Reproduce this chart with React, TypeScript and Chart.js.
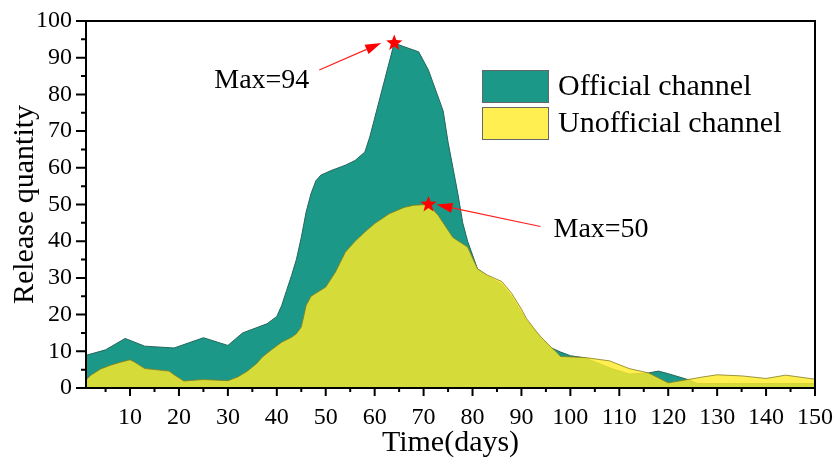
import React, { useEffect, useRef } from 'react';
import { Chart, registerables } from 'chart.js';

Chart.register(...registerables);

// ---- data ----
const officialDays = [1, 5, 9, 13, 19, 25, 30, 33, 35, 38, 40, 41, 42, 43, 44, 45, 46, 47, 48, 49, 51, 54, 56, 58, 59, 64, 66, 69, 71, 74, 75, 76, 77, 78, 79, 81, 83, 86, 88, 91, 94, 96, 98, 100, 103, 108, 112, 116, 118, 120, 124, 126, 150];
const officialValues = [8.9, 10.4, 13.5, 11.4, 10.9, 13.7, 11.6, 15.0, 16.0, 17.5, 19.5, 22.5, 26.6, 30.6, 35, 41, 48, 53, 56.5, 58, 59.2, 60.7, 62, 64.3, 68.4, 94, 93, 91.6, 86.6, 75.5, 67, 60, 53, 45, 40, 32.5, 30.5, 28.3, 25, 18.5, 13.5, 11, 9.8, 8.8, 8.2, 5.5, 3.8, 4.1, 4.6, 3.9, 2.3, 1.2, 1.2];

const unofficialDays = [1, 2, 4, 6, 8, 10, 11, 13, 18, 19, 21, 25, 30, 32, 34, 36, 37, 39, 41, 43, 44, 45, 46, 47, 50, 52, 54, 56, 58, 60, 63, 66, 68, 71, 73, 75, 76, 79, 81, 83, 86, 88, 90, 91, 93, 94, 96, 97, 98, 103, 108, 112, 116, 120, 124, 127, 130, 135, 140, 144, 150];
const unofficialValues = [2.2, 3.5, 5.2, 6.2, 7.0, 7.7, 7.0, 5.3, 4.6, 3.6, 1.9, 2.3, 2.0, 3.0, 4.6, 6.8, 8.4, 10.5, 12.5, 13.8, 14.8, 16.6, 22.5, 25, 27.5, 31.6, 37, 40, 42.5, 44.8, 47.5, 49.2, 49.8, 50, 47, 43, 41, 38.4, 32.5, 30.8, 29, 25.8, 21.5, 19, 15.5, 13.9, 11.2, 10, 8.6, 8.3, 7.4, 5.3, 4.1, 1.4, 2.3, 3.0, 3.6, 3.3, 2.6, 3.5, 2.4];

const seriesLabels = ['Official channel', 'Unofficial channel'];
const xTicks = [10, 20, 30, 40, 50, 60, 70, 80, 90, 100, 110, 120, 130, 140, 150];
const yTicks = [0, 10, 20, 30, 40, 50, 60, 70, 80, 90, 100];
const peakDays = [64, 71];
const peakValues = [94, 50];
const peakLabels = ['Max=94', 'Max=50'];

const FONT = '"Liberation Serif", "Times New Roman", serif';
const TEAL = 'rgb(27,152,136)';
const YELLOW = 'rgba(255,235,41,0.82)';

function drawStar(ctx: CanvasRenderingContext2D, cx: number, cy: number, ro: number, ri: number) {
  ctx.beginPath();
  for (let i = 0; i < 10; i++) {
    const r = i % 2 === 0 ? ro : ri;
    const ang = -Math.PI / 2 + (i * Math.PI) / 5;
    const x = cx + r * Math.cos(ang);
    const y = cy + r * Math.sin(ang);
    if (i === 0) ctx.moveTo(x, y);
    else ctx.lineTo(x, y);
  }
  ctx.closePath();
  ctx.fill();
}

function drawArrow(ctx: CanvasRenderingContext2D, x0: number, y0: number, x1: number, y1: number) {
  const ang = Math.atan2(y1 - y0, x1 - x0);
  const len = 16;
  const hw = 5;
  const bx = x1 - len * Math.cos(ang);
  const by = y1 - len * Math.sin(ang);
  ctx.beginPath();
  ctx.moveTo(x0, y0);
  ctx.lineTo(bx, by);
  ctx.stroke();
  ctx.beginPath();
  ctx.moveTo(x1, y1);
  ctx.lineTo(bx + hw * Math.sin(ang), by - hw * Math.cos(ang));
  ctx.lineTo(bx - hw * Math.sin(ang), by + hw * Math.cos(ang));
  ctx.closePath();
  ctx.fill();
}

// style offsets (pixels) for each annotation relative to its peak point
const annotStyle = [
  { text: [-180, 38], tail: [-75, 27], tip: [-13, 0] },
  { text: [125, 25], tail: [112, 22], tip: [8, 0] },
];

const overlayPlugin = {
  id: 'overlay',
  afterDraw(chart: any) {
    const { ctx, chartArea: a, scales } = chart;
    const xs = scales.x;
    const ys = scales.y;
    ctx.save();
    // frame
    ctx.strokeStyle = '#000';
    ctx.lineWidth = 2;
    ctx.strokeRect(a.left, a.top, a.right - a.left, a.bottom - a.top);
    // ticks
    ctx.beginPath();
    xTicks.forEach((v) => {
      const p = xs.getPixelForValue(v);
      ctx.moveTo(p, a.bottom);
      ctx.lineTo(p, a.bottom + 8);
      const m = xs.getPixelForValue(v - 5);
      ctx.moveTo(m, a.bottom);
      ctx.lineTo(m, a.bottom + 4);
    });
    yTicks.forEach((v, i) => {
      const p = ys.getPixelForValue(v);
      ctx.moveTo(a.left - 10, p);
      ctx.lineTo(a.left, p);
      if (i > 0) {
        const m = ys.getPixelForValue(v - 5);
        ctx.moveTo(a.left - 5, m);
        ctx.lineTo(a.left, m);
      }
    });
    ctx.stroke();

    // legend
    const ds = chart.data.datasets;
    const lx = a.left + 396;
    const ly = a.top + 49;
    const bw = 67;
    const bh = 33;
    const gap = 4;
    ctx.font = `30px ${FONT}`;
    ctx.textBaseline = 'middle';
    ctx.textAlign = 'left';
    ds.forEach((d: any, i: number) => {
      const y = ly + i * (bh + gap);
      ctx.fillStyle = '#fff';
      ctx.fillRect(lx, y, bw, bh);
      ctx.fillStyle = d.backgroundColor;
      ctx.fillRect(lx, y, bw, bh);
      ctx.strokeStyle = '#666';
      ctx.lineWidth = 1;
      ctx.strokeRect(lx + 0.5, y + 0.5, bw - 1, bh - 1);
      ctx.fillStyle = '#000';
      ctx.fillText(d.label, lx + bw + 9, y + bh / 2 + 1);
    });

    // annotations
    peakDays.forEach((d, i) => {
      const px = xs.getPixelForValue(d);
      const py = ys.getPixelForValue(peakValues[i]);
      const s = annotStyle[i];
      ctx.strokeStyle = '#ff2020';
      ctx.fillStyle = '#ff0000';
      ctx.lineWidth = 1.2;
      drawArrow(ctx, px + s.tail[0], py + s.tail[1], px + s.tip[0], py + s.tip[1]);
      ctx.fillStyle = '#ff0000';
      drawStar(ctx, px, py, 8.5, 3.6);
      ctx.fillStyle = '#000';
      ctx.font = `28px ${FONT}`;
      ctx.textAlign = 'left';
      ctx.textBaseline = 'middle';
      ctx.fillText(peakLabels[i], px + s.text[0], py + s.text[1]);
    });
    ctx.restore();
  },
};

export default function App() {
  const ref = useRef<HTMLCanvasElement>(null);
  useEffect(() => {
    if (!ref.current) return;
    const chart = new Chart(ref.current, {
      type: 'line',
      data: {
        datasets: [
          {
            label: seriesLabels[0],
            data: officialDays.map((d, i) => ({ x: d, y: officialValues[i] })),
            backgroundColor: TEAL,
            borderColor: '#24665c',
            borderWidth: 1,
            fill: 'origin',
            pointRadius: 0,
            tension: 0,
            order: 2,
          },
          {
            label: seriesLabels[1],
            data: unofficialDays.map((d, i) => ({ x: d, y: unofficialValues[i] })),
            backgroundColor: YELLOW,
            borderColor: 'rgba(130,125,30,0.8)',
            borderWidth: 1,
            fill: 'origin',
            pointRadius: 0,
            tension: 0,
            order: 1,
          },
        ],
      },
      options: {
        responsive: false,
        animation: false,
        layout: { padding: { top: 21, right: 21, left: 0, bottom: 0 } },
        plugins: { legend: { display: false }, tooltip: { enabled: false } },
        scales: {
          x: {
            type: 'linear',
            min: 1,
            max: 150,
            afterBuildTicks: (s: any) => {
              s.ticks = xTicks.map((v) => ({ value: v }));
            },
            afterFit: (s: any) => {
              s.height = 71;
              s.paddingLeft = 0;
              s.paddingRight = 0;
              s.paddingTop = 0;
              s.paddingBottom = 0;
            },
            grid: { display: false, drawTicks: false },
            border: { display: false },
            ticks: { color: '#000', padding: 15, maxRotation: 0, font: { family: FONT, size: 24 } },
            title: {
              display: true,
              text: 'Time(days)',
              color: '#000',
              font: { family: FONT, size: 30, lineHeight: 1 },
              padding: { top: 0, bottom: 1 },
            },
          },
          y: {
            min: 0,
            max: 100,
            afterBuildTicks: (s: any) => {
              s.ticks = yTicks.map((v) => ({ value: v }));
            },
            afterFit: (s: any) => {
              s.width = 86;
              s.paddingLeft = 0;
              s.paddingRight = 0;
              s.paddingTop = 0;
              s.paddingBottom = 0;
            },
            grid: { display: false, drawTicks: false },
            border: { display: false },
            ticks: { color: '#000', padding: 14, font: { family: FONT, size: 24 } },
            title: {
              display: true,
              text: 'Release quantity',
              color: '#000',
              font: { family: FONT, size: 30, lineHeight: 1 },
              padding: { top: 10, bottom: 0 },
            },
          },
        },
      },
      plugins: [overlayPlugin],
    } as any);
    return () => chart.destroy();
  }, []);
  return (
    <div style={{ position: 'absolute', left: 0, top: 0, width: 836, height: 459, background: '#fff' }}>
      <canvas ref={ref} width={836} height={459} style={{ width: 836, height: 459, display: 'block' }} />
    </div>
  );
}
